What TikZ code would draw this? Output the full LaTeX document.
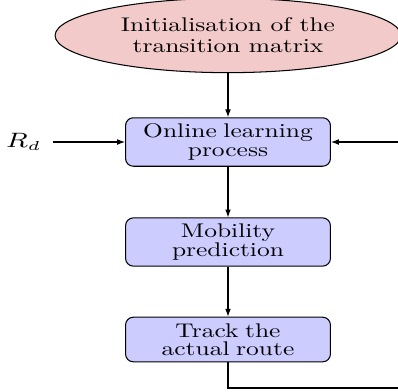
\documentclass[tikz,border=0pt]{standalone}
\usepackage{fontspec}
\setmainfont{lmroman10-regular.otf}[FakeStretch=1.29]
\usepackage{graphicx}
\usetikzlibrary{arrows.meta,shapes.geometric}

\definecolor{cloudpink}{RGB}{242,202,202}

\tikzset{
	cloud/.style={draw, ellipse, fill=cloudpink, minimum width=133pt, minimum height=24.2pt,
		align=center, font=\fontsize{7.6}{8.1}\selectfont},
	block/.style={draw, rectangle, rounded corners=3pt, fill=blue!20, text width=74pt,
		minimum width=78.8pt, inner sep=2.4pt, align=center, font=\fontsize{7.6}{7}\selectfont},
	line/.style={draw, -{Latex[length=3pt,width=2.2pt]}}
}

\begin{document}
\begin{tikzpicture}[x=0.3846pt, y=-0.3846pt]
	\path[use as bounding box, clip] (0,0) rectangle (398,391);

	\node [cloud] (init) at (228,35.5) {Initialisation of the\\transition matrix};
	\node [block] (learn) at (228,142) {Online learning\\process};
	\node [block] (predict) at (228,242) {Mobility\\prediction};
	\node [block] (track) at (228,339.5) {Track the\\actual route};
	\node [inner xsep=4pt, font=\fontsize{7.6}{8}\selectfont] (rd) at (24,142) {\scalebox{1.29}[1]{$R_d$}};
	\coordinate (loop) at (403,388);

	\draw [line] (init) to (learn);
	\draw [line] (learn) to (predict);
	\draw [line] (predict) to (track);
	\draw [line] (rd) to (learn);
	\draw [line] (track) |- (loop) |- (learn);
\end{tikzpicture}
\end{document}
